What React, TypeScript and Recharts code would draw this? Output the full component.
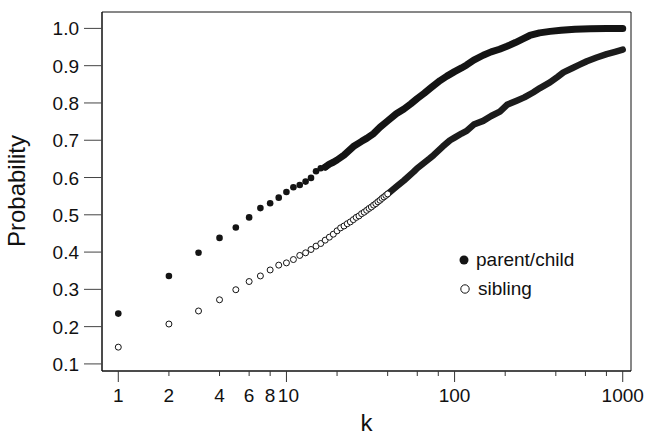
import React from 'react'
import { ComposedChart, Scatter, Line, XAxis, YAxis, ReferenceArea } from 'recharts'

// discrete points (k = 1..17 for parent/child, 1..40 for sibling)
const parentK = [1, 2, 3, 4, 5, 6, 7, 8, 9, 10, 11, 12, 13, 14, 15, 16, 17]
const parentP = [0.235, 0.336, 0.398, 0.438, 0.466, 0.493, 0.518, 0.531, 0.546, 0.561, 0.574, 0.58, 0.589, 0.599, 0.617, 0.625, 0.628]

const siblingK = [
  1, 2, 3, 4, 5, 6, 7, 8, 9, 10, 11, 12, 13, 14, 15, 16, 17, 18, 19, 20,
  21, 22, 23, 24, 25, 26, 27, 28, 29, 30, 31, 32, 33, 34, 35, 36, 37, 38, 39, 40,
]
const siblingP = [
  0.145, 0.207, 0.242, 0.272, 0.299, 0.321, 0.336, 0.352, 0.365, 0.371, 0.38, 0.391, 0.398, 0.407, 0.416, 0.423, 0.432, 0.44, 0.448, 0.457,
  0.465, 0.47, 0.476, 0.481, 0.487, 0.493, 0.497, 0.503, 0.507, 0.512, 0.517, 0.521, 0.526, 0.53, 0.535, 0.539, 0.544, 0.548, 0.552, 0.556,
]

// dense part of each series, where the markers merge into a band
const parentBandK = [17, 18, 19, 20, 22, 25, 28, 30, 33, 36, 40, 45, 50, 55, 60, 66, 72, 82, 90, 100, 110, 118, 130, 148, 165, 185, 205, 230, 255, 280, 320, 370, 430, 520, 640, 800, 1000]
const parentBandP = [0.628, 0.636, 0.641, 0.647, 0.66, 0.683, 0.697, 0.705, 0.718, 0.735, 0.752, 0.771, 0.784, 0.798, 0.812, 0.826, 0.84, 0.86, 0.872, 0.884, 0.894, 0.902, 0.915, 0.928, 0.937, 0.944, 0.952, 0.962, 0.972, 0.981, 0.988, 0.992, 0.995, 0.998, 0.999, 1.0, 1.0]

const siblingBandK = [40, 45, 50, 57, 60, 71, 75, 85, 94, 100, 110, 118, 130, 148, 165, 186, 205, 234, 260, 293, 322, 369, 410, 444, 500, 550, 612, 700, 803, 900, 1000]
const siblingBandP = [0.556, 0.575, 0.592, 0.615, 0.625, 0.651, 0.66, 0.683, 0.7, 0.707, 0.718, 0.725, 0.742, 0.752, 0.765, 0.777, 0.795, 0.806, 0.815, 0.828, 0.84, 0.855, 0.87, 0.882, 0.893, 0.902, 0.912, 0.922, 0.931, 0.937, 0.943]

const xTicks = [1, 2, 4, 6, 8, 10, 20, 40, 60, 80, 100, 200, 400, 600, 800, 1000]
const xTickLabels = ['1', '2', '4', '6', '8', '10', '', '', '', '', '100', '', '', '', '', '1000']
const yTicks = [0.1, 0.2, 0.3, 0.4, 0.5, 0.6, 0.7, 0.8, 0.9, 1.0]

const X_DOMAIN = [0.8, 1120]
const Y_DOMAIN = [0.081, 1.044]

const toRows = (ks: number[], ps: number[]) => ks.map((k, i) => ({ k, p: ps[i] }))

const parentData = toRows(parentK, parentP)
const siblingData = toRows(siblingK, siblingP)
const parentBand = toRows(parentBandK, parentBandP)
const siblingBand = toRows(siblingBandK, siblingBandP)

const FONT = 'Arial, "Liberation Sans", Helvetica, sans-serif'
const INK = '#141414'

const XTick = (props: any) => {
  const { x, y, payload } = props
  const i = xTicks.indexOf(payload.value)
  const major = [1, 10, 100, 1000].includes(payload.value)
  const label = xTickLabels[i]
  return (
    <g>
      <line x1={x} x2={x} y1={y} y2={y + (major ? 11 : 5)} stroke="#333" />
      {label ? (
        <text x={x + (label === '10' ? 2 : 0)} y={y + 31} textAnchor="middle" fontSize={19} fontFamily={FONT} fill="#111">
          {label}
        </text>
      ) : null}
    </g>
  )
}

const YTick = (props: any) => {
  const { x, y, payload } = props
  return (
    <g>
      <line x1={x - 18} x2={x} y1={y} y2={y} stroke="#444" />
      <text x={x - 23} y={y + 7} textAnchor="end" fontSize={19} fontFamily={FONT} fill="#111">
        {payload.value.toFixed(1)}
      </text>
    </g>
  )
}

const FilledDot = (props: any) => <circle cx={props.cx} cy={props.cy} r={3.3} fill={INK} />
const OpenDot = (props: any) => (
  <circle cx={props.cx} cy={props.cy} r={3} fill="#fff" stroke={INK} strokeWidth={1} />
)

const App = () => (
  <div style={{ position: 'absolute', left: 0, top: 0, width: 646, height: 435, background: '#fff' }}>
    <ComposedChart width={646} height={435} margin={{ top: 12, right: 15, bottom: 0, left: 0 }}>
      <XAxis
        dataKey="k"
        type="number"
        scale="log"
        domain={X_DOMAIN}
        allowDataOverflow
        ticks={xTicks}
        interval={0}
        height={64}
        tickSize={0}
        tickMargin={0}
        tickLine={false}
        tick={<XTick />}
        axisLine={{ stroke: '#111' }}
      />
      <YAxis
        dataKey="p"
        type="number"
        domain={Y_DOMAIN}
        allowDataOverflow
        ticks={yTicks}
        interval={0}
        width={102}
        tickSize={0}
        tickMargin={0}
        tickLine={false}
        tick={<YTick />}
        axisLine={{ stroke: '#111' }}
      />
      {/* plot frame */}
      <ReferenceArea
        x1={X_DOMAIN[0]}
        x2={X_DOMAIN[1]}
        y1={Y_DOMAIN[0]}
        y2={Y_DOMAIN[1]}
        fill="none"
        fillOpacity={0}
        stroke="#111"
        strokeWidth={1}
        ifOverflow="extendDomain"
      />
      <Line
        data={parentBand}
        dataKey="p"
        type="linear"
        stroke={INK}
        strokeWidth={7}
        strokeLinecap="round"
        strokeLinejoin="round"
        dot={false}
        activeDot={false}
        isAnimationActive={false}
      />
      <Line
        data={siblingBand}
        dataKey="p"
        type="linear"
        stroke="#1c1c1c"
        strokeWidth={6.5}
        strokeLinecap="round"
        strokeLinejoin="round"
        dot={false}
        activeDot={false}
        isAnimationActive={false}
      />
      <Scatter data={parentData} dataKey="p" shape={<FilledDot />} isAnimationActive={false} />
      <Scatter data={siblingData} dataKey="p" shape={<OpenDot />} isAnimationActive={false} />
    </ComposedChart>
    <svg width={646} height={435} style={{ position: 'absolute', left: 0, top: 0, pointerEvents: 'none' }}>
      <text
        transform="translate(25,191) rotate(-90)"
        textAnchor="middle"
        fontSize={24}
        fontFamily={FONT}
        fill="#111"
      >
        Probability
      </text>
      <text x={366.5} y={431} textAnchor="middle" fontSize={24} fontFamily={FONT} fill="#111">
        k
      </text>
    </svg>
    <div style={{ position: 'absolute', left: 458, top: 245, fontFamily: FONT, fontSize: 19, color: '#111', lineHeight: '29px' }}>
      <div style={{ display: 'flex', alignItems: 'center' }}>
        <svg width={14} height={14} style={{ marginRight: 4 }}>
          <circle cx={6} cy={7} r={4.5} fill={INK} />
        </svg>
        <span>parent/child</span>
      </div>
      <div style={{ display: 'flex', alignItems: 'center' }}>
        <svg width={14} height={14} style={{ marginRight: 6 }}>
          <circle cx={7} cy={7} r={4.2} fill="#fff" stroke={INK} strokeWidth={1} />
        </svg>
        <span>sibling</span>
      </div>
    </div>
  </div>
)

export default App
